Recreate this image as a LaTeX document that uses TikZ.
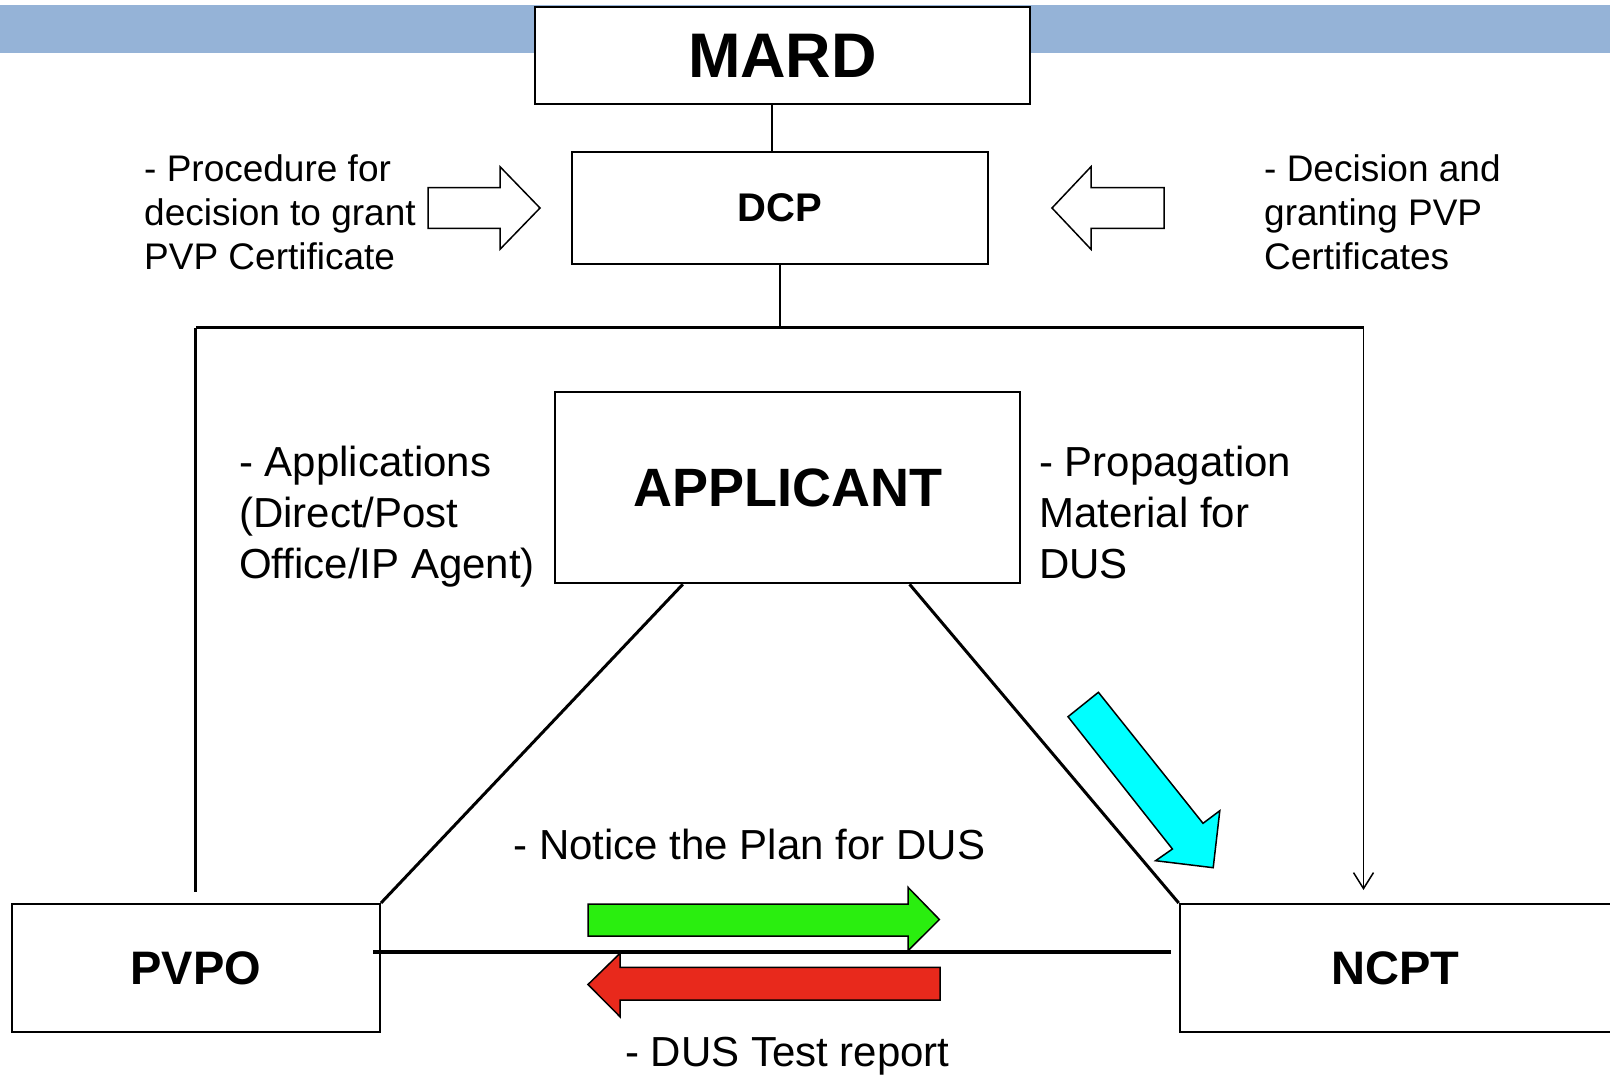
\documentclass[tikz,border=0pt]{standalone}
\usepackage{fontspec}
\setmainfont{Liberation Sans}
\usetikzlibrary{arrows.meta}
\definecolor{bandblue}{RGB}{149,179,215}
\definecolor{plangreen}{RGB}{42,238,15}
\definecolor{reportred}{RGB}{232,41,28}
\definecolor{seedcyan}{RGB}{0,255,255}
\tikzset{
  box/.style={draw, line width=2pt, fill=white, inner sep=0pt},
  note/.style={anchor=base west, align=left, inner sep=0pt},
  bigarrow/.style={draw, line width=1.5pt, line join=miter},
  link/.style={line width=3pt},
}

\begin{document}
\begin{tikzpicture}[x=1pt,y=-1pt]
    \useasboundingbox (0,0) rectangle (1610,1076);
    \fill [bandblue] (0,5) rectangle (1610,52.7);
    \node [box, minimum width=495pt, minimum height=96.7pt, font=\fontsize{63}{75}\selectfont\bfseries] (mard) at (782.5,55.7) {MARD};
    \node [box, minimum width=416pt, minimum height=112.3pt, font=\fontsize{40}{48}\selectfont\bfseries] (dcp) at (780,207.9) {DCP};
    \node [box, minimum width=464.6pt, minimum height=191.6pt, font=\fontsize{54}{64}\selectfont\bfseries] (applicant) at (787.7,487.5) {APPLICANT};
    \node [box, minimum width=368.5pt, minimum height=127.7pt, font=\fontsize{47}{56}\selectfont\bfseries] (pvpo) at (195.75,967.85) {PVPO};
    \node [box, minimum width=432pt, minimum height=127.7pt, font=\fontsize{47}{56}\selectfont\bfseries] (ncpt) at (1395.7,967.85) {NCPT};
    \coordinate (busL) at (195.8,327.7);
    \coordinate (busR) at (1363.5,327.7);
    \coordinate (pvpoup) at (195.8,891.7);
    \coordinate (ncptup) at (1363.5,890);
    \draw [line width=2pt] ([xshift=-10.5pt]mard.south) -- ([xshift=-10.5pt]mard.south |- dcp.north);
    \draw [line width=2.5pt] (dcp.south) -- (dcp.south |- busL);
    \draw [link] (busL) -- (busR);
    \draw [link] (busL) -- (pvpoup);
    \draw [line width=1.5pt, -{Straight Barb[length=16pt,width=20pt]}] (busR) -- (ncptup);
    \draw [link] ([xshift=128.4pt]applicant.south west) -- (pvpo.north east);
    \draw [link] ([xshift=-111.4pt]applicant.south east) -- (ncpt.north west);
    \draw [line width=3.5pt] ([shift={(-8,-16)}]pvpo.east) -- ([shift={(-8,-16)}]ncpt.west);
    \draw [bigarrow, fill=white] (428,187.7) -- (500,187.7) -- (500,166.7) -- (540,208) -- (500,249.3) -- (500,228.3) -- (428,228.3) -- cycle;
    \draw [bigarrow, fill=white] (1164,187.7) -- (1091,187.7) -- (1091,166.7) -- (1052,208) -- (1091,249.3) -- (1091,228.3) -- (1164,228.3) -- cycle;
    \draw [bigarrow, fill=plangreen] (588,904) -- (908,904) -- (908,887.3) -- (939.4,919.5) -- (908,950.7) -- (908,936) -- (588,936) -- cycle;
    \draw [bigarrow, fill=reportred] (940,967.3) -- (620,967.3) -- (620,953.3) -- (588,984.5) -- (620,1016.7) -- (620,1000) -- (940,1000) -- cycle;
    \draw [bigarrow, fill=seedcyan] (1068,716.7) -- (1098.4,692.3) -- (1203,823.3) -- (1219.8,810.7) -- (1213.2,867.7) -- (1155.6,860.7) -- (1172.4,849) -- cycle;
    \node [note, font=\fontsize{37}{44}\selectfont] (proc) at (144,269.7) {- Procedure for\\decision to grant\\PVP Certificate};
    \node [note, font=\fontsize{37}{44}\selectfont] (decis) at (1264,269.7) {- Decision and\\granting PVP\\Certificates};
    \node [note, font=\fontsize{42}{51}\selectfont] (appl) at (239,578) {- Applications\\(Direct/Post\\Office/IP Agent)};
    \node [note, font=\fontsize{42}{51}\selectfont] (prop) at (1039,578) {- Propagation\\Material for\\DUS};
    \node [note, font=\fontsize{42}{49}\selectfont] (notice) at (513.4,859.3) {- Notice the Plan for DUS};
    \node [note, font=\fontsize{42}{49}\selectfont] (report) at (625,1066.7) {- DUS Test report};
\end{tikzpicture}
\end{document}
